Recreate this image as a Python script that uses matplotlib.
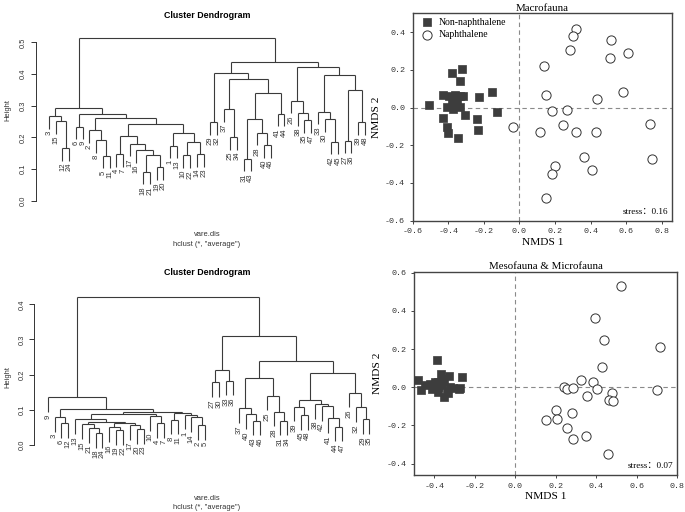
import matplotlib
matplotlib.use("Agg")
import matplotlib.pyplot as plt

plt.rcParams["axes.unicode_minus"] = False

W, H = 685, 512
SANS = "Liberation Sans"
SERIF = ["Liberation Serif", "Noto Sans CJK SC"]
MONO = "Liberation Mono"

# ---------------- data ----------------
# dendrograms: (merge height, left, right); ints are sample numbers
macro_tree = (0.513,
    (0.292,
        (0.268, 3, (0.252, 15, (0.167, 12, 24))),
        (0.274,
            (0.234, 6, 9),
            (0.260,
                (0.223, 2, (0.192, 8, (0.142, 5, 11))),
                (0.243,
                    (0.205, (0.147, 4, 7),
                     (0.180, 17, (0.160, 16, (0.143, (0.092, 18, 21), (0.105, 19, 20))))),
                    (0.213, (0.174, 1, 13), (0.187, (0.143, 10, 22), (0.148, 14, 23))))))),
    (0.439,
        (0.402,
            (0.249, 29, 32),
            (0.383,
                (0.289, 37, (0.200, 25, 34)),
                (0.339,
                    (0.258, (0.133, 31, 43), (0.215, 28, (0.175, 40, 46))),
                    (0.275, 41, 44)))),
        (0.423,
            (0.316, 26, (0.276, 38, (0.255, 35, 47))),
            (0.397,
                (0.281, 33, (0.257, 30, (0.186, 42, 45))),
                (0.350, (0.190, 27, 36), (0.249, 39, 48))))))

meso_tree = (0.422,
    (0.135,
        9,
        (0.102,
            (0.080, 3, (0.062, 6, 12)),
            (0.095,
                (0.087,
                    (0.073, 13,
                        (0.066,
                            (0.059, 15, (0.048, 21, (0.034, 18, 24))),
                            (0.063, (0.050, 16, (0.043, 19, 22)), (0.057, 17, (0.045, 20, 23))))),
                    (0.082, 10, (0.063, 4, 7))),
                (0.090, (0.072, 8, 11), (0.086, 1, (0.078, 14, (0.057, 2, 5))))))),
    (0.311,
        (0.213, (0.178, 27, 30), (0.183, 33, 36)),
        (0.240,
            (0.190,
                (0.104, 37, (0.087, 40, (0.069, 43, 46))),
                (0.140, 25, (0.095, 28, (0.069, 31, 34)))),
            (0.205,
                (0.129, (0.109, 39, (0.085, 45, 48)),
                 (0.117, 38, (0.111, 42, (0.076, 41, (0.052, 44, 47))))),
                (0.149, 26, (0.107, 32, (0.073, 29, 35)))))))

macro_non_x = [-0.507, -0.432, -0.381, -0.325, -0.336, -0.152, -0.227, -0.128, -0.236, -0.231,
               -0.343, -0.432, -0.409, -0.403, -0.306, -0.394, -0.362, -0.334, -0.315, -0.381,
               -0.405, -0.353, -0.334, -0.371]
macro_non_y = [0.016, 0.065, 0.183, 0.206, 0.141, 0.083, 0.056, -0.023, -0.058, -0.120,
               -0.160, -0.053, -0.102, -0.137, -0.041, 0.060, 0.065, 0.062, 0.060, 0.030,
               0.004, 0.030, 0.004, -0.005]
macro_nap_x = [0.319, 0.304, 0.285, 0.514, 0.610, 0.510, 0.141, 0.585, 0.150, 0.439,
               0.266, 0.186, -0.038, 0.116, 0.248, 0.319, 0.430, 0.732, 0.745, 0.364,
               0.199, 0.186, 0.407, 0.150]
macro_nap_y = [0.418, 0.377, 0.303, 0.359, 0.291, 0.263, 0.220, 0.083, 0.065, 0.048,
               -0.011, -0.019, -0.104, -0.132, -0.093, -0.132, -0.127, -0.085, -0.275, -0.261,
               -0.308, -0.354, -0.331, -0.481]

meso_non_x = [-0.385, -0.480, -0.464, -0.444, -0.422, -0.397, -0.380, -0.367, -0.350, -0.326,
              -0.263, -0.380, -0.350, -0.338, -0.305, -0.280, -0.271, -0.363, -0.397, -0.410,
              -0.380, -0.321, -0.363, -0.330]
meso_non_y = [0.144, 0.038, -0.017, 0.009, 0.017, 0.000, 0.026, 0.069, 0.035, 0.061,
              0.052, -0.026, -0.052, -0.026, -0.003, -0.009, -0.003, 0.009, 0.026, -0.009,
              0.000, 0.000, 0.043, -0.031]
meso_nap_x = [0.520, 0.395, 0.437, 0.716, 0.428, 0.323, 0.382, 0.239, 0.253, 0.285,
              0.402, 0.700, 0.477, 0.356, 0.465, 0.482, 0.201, 0.281, 0.151, 0.206,
              0.256, 0.351, 0.285, 0.457]
meso_nap_y = [0.528, 0.364, 0.246, 0.213, 0.107, 0.038, 0.026, 0.000, -0.009, -0.003,
              -0.009, -0.014, -0.031, -0.048, -0.066, -0.073, -0.121, -0.135, -0.170, -0.168,
              -0.216, -0.256, -0.274, -0.352]

groups = ["Non-naphthalene", "Naphthalene"]
stress = {"Macrofauna": 0.16, "Mesofauna & Microfauna": 0.07}

fig = plt.figure(figsize=(W / 100, H / 100), dpi=100)
fig.patch.set_facecolor("white")


def box(left, top, right, bottom):
    return fig.add_axes([left / W, 1 - bottom / H, (right - left) / W, (bottom - top) / H])


def ftext(x, y, s, **kw):
    fig.text(x / W, 1 - y / H, s, ha="center", va="center", **kw)


def draw_tree(ax, tree, hang):
    count = [0]

    def walk(node):
        if isinstance(node, int):
            count[0] += 1
            return count[0], None, node
        h, left, right = node
        xl, hl, _ = walk(left)
        xr, hr, _ = walk(right)
        for x, hc, child in ((xl, hl, left), (xr, hr, right)):
            low = h - hang if hc is None else hc
            ax.plot([x, x], [low, h], color="#3a3a3a", lw=0.8, solid_capstyle="butt")
            if hc is None:
                ax.text(x, low - 0.006, str(child), rotation=90, ha="center", va="top",
                        fontsize=5.5, family=SANS, color="#333333")
        ax.plot([xl, xr], [h, h], color="#3a3a3a", lw=0.8, solid_capstyle="butt")
        return (xl + xr) / 2, h, None

    walk(tree)


def dendro(rect, tree, hang, xlim, ylim, ymax, title_y, height_y, sub_y):
    ax = box(*rect)
    draw_tree(ax, tree, hang)
    ax.set_xlim(*xlim)
    ax.set_ylim(*ylim)
    ax.set_xticks([])
    ticks = [i / 10 for i in range(int(round(ymax * 10)) + 1)]
    ax.set_yticks(ticks)
    ax.set_yticklabels([f"{t:.1f}" for t in ticks], family=SANS, fontsize=5.4, color="#333333")
    plt.setp(ax.get_yticklabels(), rotation=90, va="center")
    ax.tick_params(axis="y", length=3.5, width=0.7, pad=3, color="#333333")
    for s in ("top", "right", "bottom"):
        ax.spines[s].set_visible(False)
    ax.spines["left"].set_bounds(0, ymax)
    ax.spines["left"].set_linewidth(0.7)
    ax.spines["left"].set_color("#333333")
    ax.patch.set_alpha(0)
    ftext(207, title_y, "Cluster Dendrogram", fontsize=6.4, fontweight="bold", family=SANS)
    ftext(8, height_y, "Height", rotation=90, fontsize=5.4, family=SANS, color="#333333")
    ftext(207, sub_y, "vare.dis", fontsize=5.4, family=SANS, color="#333333")
    ftext(207, sub_y + 9.5, 'hclust (*, "average")', fontsize=5.4, family=SANS, color="#333333")


def nmds(rect, title, xs, ys, xlim, ylim, xticks, yticks):
    ax = box(*rect)
    ax.axvline(0, color="#8a8a8a", lw=0.8, ls=(0, (4, 3)), zorder=1)
    ax.axhline(0, color="#8a8a8a", lw=0.8, ls=(0, (4, 3)), zorder=1)
    ax.scatter(xs[0], ys[0], marker="s", s=38, facecolor="#3d3d3d", edgecolor="#3d3d3d",
               linewidths=0.5, label=groups[0], zorder=3)
    ax.scatter(xs[1], ys[1], marker="o", s=44, facecolor="white", edgecolor="#333333",
               linewidths=0.7, label=groups[1], zorder=3)
    ax.set_xlim(*xlim)
    ax.set_ylim(*ylim)
    ax.set_xticks(xticks)
    ax.set_yticks(yticks)
    ax.set_xticklabels([f"{t:.1f}" for t in xticks], family=MONO, fontsize=6)
    ax.set_yticklabels([f"{t:.1f}" for t in yticks], family=MONO, fontsize=6)
    ax.tick_params(length=2.5, width=0.7, pad=3, color="#444444", labelcolor="#333333")
    for s in ax.spines.values():
        s.set_linewidth(1.0)
        s.set_color("#444444")
    ax.set_title(title, family=SERIF, fontsize=7.8, pad=2)
    ax.set_xlabel("NMDS 1", family=SERIF, fontsize=8.2, labelpad=2)
    ax.set_ylabel("NMDS 2", family=SERIF, fontsize=8.2, labelpad=3)
    ax.text(0.985, 0.043, f"stress\uff1a{stress[title]:.2f}", transform=ax.transAxes,
            ha="right", va="center", family=SERIF, fontsize=6.6)
    return ax


# ---------------- left: cluster dendrograms ----------------
dendro((36, 30, 377, 215), macro_tree, 0.040, (-0.94, 49.8), (-0.045, 0.539), 0.5,
       15, 110, 235)
dendro((34.3, 285, 379.7, 460), meso_tree, 0.042, (-0.96, 49.5), (-0.043, 0.455), 0.4,
       272.7, 376.7, 498.3)

# ---------------- right: NMDS ordinations ----------------
ax1 = nmds((412.7, 13.3, 672.3, 220.7), "Macrofauna",
           (macro_non_x, macro_nap_x), (macro_non_y, macro_nap_y),
           (-0.6, 0.86), (-0.6, 0.5),
           [-0.6, -0.4, -0.2, 0.0, 0.2, 0.4, 0.6, 0.8], [-0.6, -0.4, -0.2, 0.0, 0.2, 0.4])
ax1.legend(loc="upper left", bbox_to_anchor=(0.0, 1.01), frameon=False,
           prop={"family": SERIF, "size": 7}, handletextpad=0.5, labelspacing=0.35,
           borderaxespad=0.3, handlelength=1.5)

nmds((414, 271.7, 677.3, 475), "Mesofauna & Microfauna",
     (meso_non_x, meso_nap_x), (meso_non_y, meso_nap_y),
     (-0.5, 0.8), (-0.46, 0.605),
     [-0.4, -0.2, 0.0, 0.2, 0.4, 0.6, 0.8], [-0.4, -0.2, 0.0, 0.2, 0.4, 0.6])

fig.savefig("out.png", dpi=100)
